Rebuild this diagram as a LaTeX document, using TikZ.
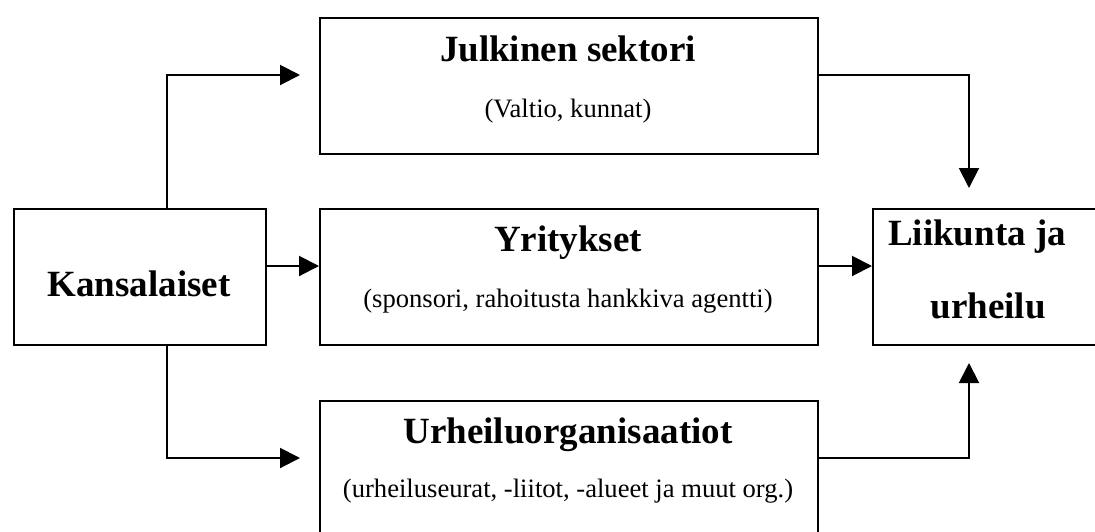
\documentclass[tikz,border=0pt]{standalone}
\usepackage{fontspec}
\setmainfont{Liberation Serif}
\usetikzlibrary{arrows.meta}
\tikzset{
  box/.style={draw, line width=2pt, rectangle, inner sep=0pt, anchor=north west},
  title/.style={font=\fontsize{37}{40}\selectfont\bfseries, anchor=base, inner sep=0pt},
  sub/.style={font=\fontsize{26.6}{30}\selectfont, anchor=base, inner sep=0pt},
  conn/.style={line width=2pt},
  arr/.style={line width=2pt, -{Triangle[length=20pt,width=20pt]}}
}
\begin{document}
\begin{tikzpicture}[x=1pt,y=-1pt]
\useasboundingbox (0,0) rectangle (1095,531);
\clip (0,0) rectangle (1095,531);

% boxes
\node[box, minimum width=252pt, minimum height=136pt] (kans) at (13,208) {};
\node[box, minimum width=498pt, minimum height=136pt] (julk) at (319,17) {};
\node[box, minimum width=498pt, minimum height=136pt] (yrit) at (319,208) {};
\node[box, minimum width=498pt, minimum height=160pt] (urh) at (319,400) {};
\node[box, minimum width=250pt, minimum height=136pt] (liik) at (872,208) {};

% texts
\node[title] (tkans) at (139,296) {Kansalaiset};
\node[title] (tjulk) at (568,61) {Julkinen sektori};
\node[sub]   (sjulk) at (568,117) {(Valtio, kunnat)};
\node[title] (tyrit) at (568,251) {Yritykset};
\node[sub]   (syrit) at (568,307) {(sponsori, rahoitusta hankkiva agentti)};
\node[title] (turh)  at (568,443) {Urheiluorganisaatiot};
\node[sub]   (surh)  at (568,497) {(urheiluseurat, -liitot, -alueet ja muut org.)};
\node[title] (tliik1) at (977,245) {Liikunta ja};
\node[title] (tliik2) at (988,318) {urheilu};

% connector end points
\coordinate (topin)  at (300,75);
\coordinate (botin)  at (300,458);
\coordinate (split)  at (167,0);
\coordinate (rtop)   at (969,188);
\coordinate (rbot)   at (969,363);
\coordinate (outtop) at (817,75);
\coordinate (outbot) at (817,458);

% from Kansalaiset
\draw[arr] (split |- kans.north) |- (topin);
\draw[arr] (split |- kans.south) |- (botin);
\draw[arr] (kans.east |- 0,266) -- (yrit.west |- 0,266);

% into Liikunta ja urheilu
\draw[arr] (outtop) -| (rtop);
\draw[arr] (outbot) -| (rbot);
\draw[arr] (yrit.east |- 0,266) -- (liik.west |- 0,266);
\end{tikzpicture}
\end{document}
